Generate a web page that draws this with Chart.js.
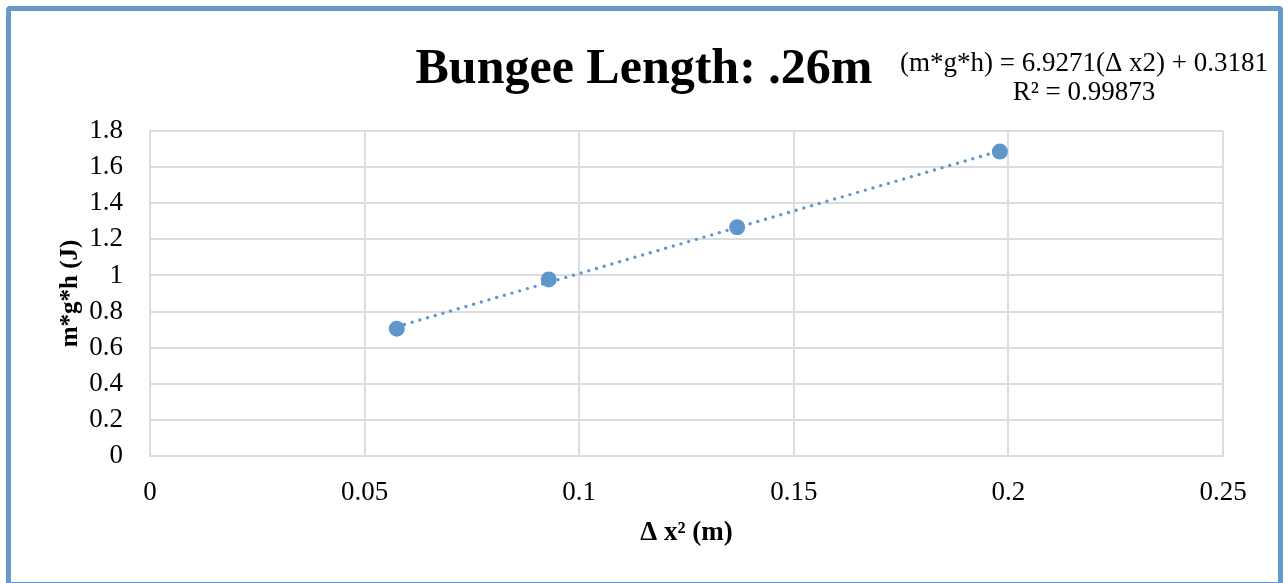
<!DOCTYPE html>
<html>
<head>
<meta charset="utf-8">
<script src="https://cdn.jsdelivr.net/npm/chart.js@4.4.1/dist/chart.umd.min.js"></script>
<style>
  html, body { margin: 0; padding: 0; background: #fff; }
  #wrap { position: relative; width: 1288px; height: 583px; overflow: hidden; background: #fff; }
  #frame { position: absolute; left: 6px; top: 6px; width: 1277px; height: 581px; box-sizing: border-box;
           border: 5px solid #6699cc; border-radius: 4px; }
  #c { position: absolute; left: 0; top: 0; }
</style>
</head>
<body>
<div id="wrap">
  <div id="frame"></div>
  <canvas id="c" width="1288" height="583"></canvas>
</div>
<script>
// ---- data ----
const chartTitle = 'Bungee Length: .26m';
const xAxisTitle = 'Δ x² (m)';
const yAxisTitle = 'm*g*h (J)';
const xValues = [0.0575, 0.0929, 0.1368, 0.1980];
const yValues = [0.705, 0.978, 1.267, 1.686];
const trendSlope = 6.9271;
const trendIntercept = 0.3181;
const equationLines = ['(m*g*h) = 6.9271(Δ x2) + 0.3181', 'R² = 0.99873'];
const xTicks = [0, 0.05, 0.1, 0.15, 0.2, 0.25];
const xTickLabels = ['0', '0.05', '0.1', '0.15', '0.2', '0.25'];
const yTicks = [0, 0.2, 0.4, 0.6, 0.8, 1, 1.2, 1.4, 1.6, 1.8];
const yTickLabels = ['0', '0.2', '0.4', '0.6', '0.8', '1', '1.2', '1.4', '1.6', '1.8'];

const points = xValues.map((x, i) => ({ x: x, y: yValues[i] }));
const xMin = Math.min(...xValues), xMax = Math.max(...xValues);
const trendPoints = [xMin, xMax].map(x => ({ x: x, y: trendSlope * x + trendIntercept }));

const blue = '#5f96cc';
const gridColor = '#dcdcdc';
const serif = '"Liberation Serif", "Times New Roman", serif';

const textPlugin = {
  id: 'texts',
  afterDraw(chart) {
    const ctx = chart.ctx;
    ctx.save();
    ctx.fillStyle = '#000';
    ctx.textAlign = 'center';
    ctx.textBaseline = 'alphabetic';
    ctx.font = 'bold 50px ' + serif;
    ctx.fillText(chartTitle, 644, 83);
    ctx.font = '27px ' + serif;
    ctx.fillText(equationLines[0], 1084, 71);
    ctx.fillText(equationLines[1], 1084, 100);
    ctx.restore();
  }
};

new Chart(document.getElementById('c'), {
  type: 'scatter',
  data: {
    datasets: [
      {
        label: 'data',
        data: points,
        backgroundColor: blue,
        borderColor: blue,
        pointRadius: 8,
        pointHoverRadius: 8,
        pointBorderWidth: 0,
        order: 1
      },
      {
        label: 'trend',
        type: 'line',
        data: trendPoints,
        borderColor: blue,
        borderWidth: 3.4,
        borderDash: [0, 8],
        borderCapStyle: 'round',
        pointRadius: 0,
        fill: false,
        order: 2
      }
    ]
  },
  options: {
    responsive: false,
    animation: false,
    devicePixelRatio: 1,
    layout: { padding: { top: 131, right: 65, bottom: 0, left: 0 } },
    plugins: {
      legend: { display: false },
      title: { display: false },
      tooltip: { enabled: false }
    },
    scales: {
      x: {
        type: 'linear',
        min: 0, max: 0.25,
        afterBuildTicks(s) { s.ticks = xTicks.map(v => ({ value: v })); },
        afterFit(s) { s.height = 127; },
        grid: { color: gridColor, lineWidth: 2, drawTicks: false },
        border: { color: gridColor, width: 2 },
        ticks: {
          padding: 21,
          color: '#000',
          font: { family: serif, size: 27 },
          maxRotation: 0,
          callback: (v, i) => xTickLabels[i]
        },
        title: {
          display: true,
          text: xAxisTitle,
          color: '#000',
          font: { family: serif, size: 27, weight: 'bold', lineHeight: 1.2 },
          padding: { top: 0, bottom: 34 }
        }
      },
      y: {
        type: 'linear',
        min: 0, max: 1.8,
        afterBuildTicks(s) { s.ticks = yTicks.map(v => ({ value: v })); },
        afterFit(s) { s.width = 150; },
        grid: { color: gridColor, lineWidth: 2, drawTicks: false },
        border: { color: gridColor, width: 2 },
        ticks: {
          padding: 27,
          color: '#000',
          font: { family: serif, size: 27 },
          callback: (v, i) => yTickLabels[i]
        },
        title: {
          display: true,
          text: yAxisTitle,
          color: '#000',
          font: { family: serif, size: 25, weight: 'bold', lineHeight: 1.2 },
          padding: { top: 56, bottom: 0 }
        }
      }
    }
  },
  plugins: [textPlugin]
});
</script>
</body>
</html>
